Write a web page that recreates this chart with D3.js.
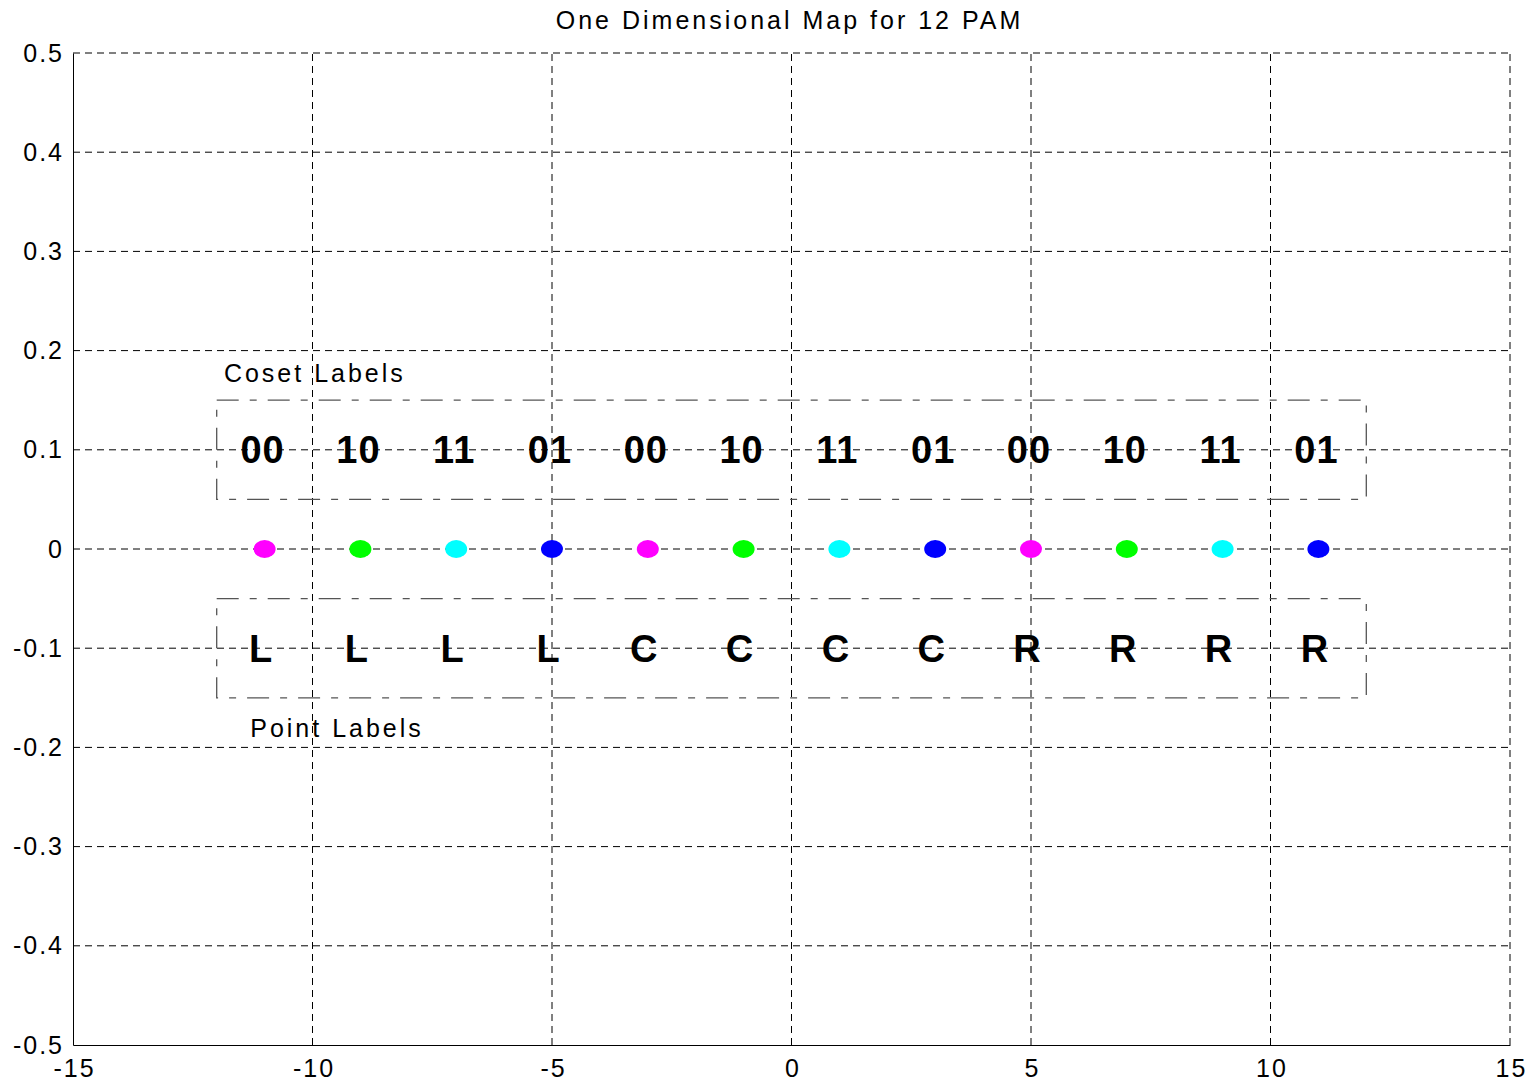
<!DOCTYPE html>
<html>
<head>
<meta charset="utf-8">
<script src="https://cdn.jsdelivr.net/npm/d3@7"></script>
<style>
  body { margin: 0; background: #fff; }
  svg { font-family: "Liberation Sans", Arial, sans-serif; }
</style>
</head>
<body>
<svg width="1533" height="1082"></svg>
<script>
var pointX = [-11, -9, -7, -5, -3, -1, 1, 3, 5, 7, 9, 11];
var pointColors = ["#ff00ff", "#00ff00", "#00ffff", "#0000ff",
                   "#ff00ff", "#00ff00", "#00ffff", "#0000ff",
                   "#ff00ff", "#00ff00", "#00ffff", "#0000ff"];
var cosetLabels = ["00", "10", "11", "01", "00", "10", "11", "01", "00", "10", "11", "01"];
var pointLabels = ["L", "L", "L", "L", "C", "C", "C", "C", "R", "R", "R", "R"];
var xTicks = [-15, -10, -5, 0, 5, 10, 15];
var yTicks = [-0.5, -0.4, -0.3, -0.2, -0.1, 0, 0.1, 0.2, 0.3, 0.4, 0.5];
var cosetBox = [-12, 12, 0.05, 0.15];
var pointBox = [-12, 12, -0.15, -0.05];

var svg = d3.select("svg");
var x = d3.scaleLinear().domain([-15, 15]).range([73, 1510]);
var y = d3.scaleLinear().domain([-0.5, 0.5]).range([1045, 53]);
var fmt = function (d) { return d3.format("~g")(d).replace("\u2212", "-"); };

// grid
svg.append("g")
    .selectAll("line")
    .data(xTicks.slice(1))
    .enter()
    .append("line")
    .attr("x1", function (d) { return x(d); })
    .attr("x2", function (d) { return x(d); })
    .attr("y1", y(-0.5))
    .attr("y2", y(0.5))
    .attr("stroke", "#000")
    .attr("stroke-width", 1)
    .attr("stroke-dasharray", "7,5");

svg.append("g")
    .selectAll("line")
    .data(yTicks.slice(1))
    .enter()
    .append("line")
    .attr("x1", x(-15))
    .attr("x2", x(15))
    .attr("y1", function (d) { return y(d); })
    .attr("y2", function (d) { return y(d); })
    .attr("stroke", "#000")
    .attr("stroke-width", 1)
    .attr("stroke-dasharray", "7,5");

// axes
var x_axis = d3.axisBottom(x).tickValues(xTicks).tickSize(0).tickPadding(13).tickFormat(fmt);
var gx = svg.append("g")
    .attr("transform", "translate(0," + y(-0.5) + ")")
    .call(x_axis);
gx.selectAll("text").attr("font-size", 25).attr("fill", "#000")
    .attr("letter-spacing", 2).attr("dx", 1)
    .attr("font-family", "Liberation Sans, Arial, sans-serif").attr("dy", "0.75em");
gx.select(".domain").attr("stroke", "#000");

var y_axis = d3.axisLeft(y).tickValues(yTicks).tickSize(0).tickPadding(9).tickFormat(fmt);
var gy = svg.append("g")
    .attr("transform", "translate(" + x(-15) + ",0)")
    .call(y_axis);
gy.selectAll("text").attr("font-size", 25).attr("fill", "#000")
    .attr("letter-spacing", 2)
    .attr("font-family", "Liberation Sans, Arial, sans-serif");
gy.select(".domain").attr("stroke", "#000");

// boxes
[cosetBox, pointBox].forEach(function (b) {
    svg.append("rect")
        .attr("x", x(b[0]))
        .attr("y", y(b[3]))
        .attr("width", x(b[1]) - x(b[0]))
        .attr("height", y(b[2]) - y(b[3]))
        .attr("fill", "none")
        .attr("stroke", "#555")
        .attr("stroke-width", 1.3)
        .attr("stroke-dasharray", "22,11,7,11");
});

// labels
svg.append("g")
    .selectAll("text")
    .data(cosetLabels)
    .enter()
    .append("text")
    .attr("x", function (d, i) { return x(pointX[i]) - 2; })
    .attr("y", y(0.1))
    .attr("dy", "0.36em")
    .attr("text-anchor", "middle")
    .attr("font-size", 38)
    .attr("font-weight", "bold")
    .attr("letter-spacing", 1)
    .text(function (d) { return d; });

svg.append("g")
    .selectAll("text")
    .data(pointLabels)
    .enter()
    .append("text")
    .attr("x", function (d, i) { return x(pointX[i]) - 4; })
    .attr("y", y(-0.1))
    .attr("dy", "0.36em")
    .attr("text-anchor", "middle")
    .attr("font-size", 38)
    .attr("font-weight", "bold")
    .text(function (d) { return d; });

// points
svg.append("g")
    .selectAll("ellipse")
    .data(pointX)
    .enter()
    .append("ellipse")
    .attr("cx", function (d) { return x(d); })
    .attr("cy", y(0))
    .attr("rx", 11)
    .attr("ry", 9)
    .attr("fill", function (d, i) { return pointColors[i]; });

svg.append("text")
    .attr("x", x(-11.85))
    .attr("y", y(0.168))
    .attr("font-size", 25)
    .attr("letter-spacing", 3)
    .text("Coset Labels");

svg.append("text")
    .attr("x", x(-11.3))
    .attr("y", y(-0.19))
    .attr("font-size", 25)
    .attr("letter-spacing", 3)
    .text("Point Labels");

svg.append("text")
    .attr("x", x(0) - 2)
    .attr("y", 29)
    .attr("text-anchor", "middle")
    .attr("font-size", 25)
    .attr("letter-spacing", 3)
    .text("One Dimensional Map for 12 PAM");
</script>
</body>
</html>
